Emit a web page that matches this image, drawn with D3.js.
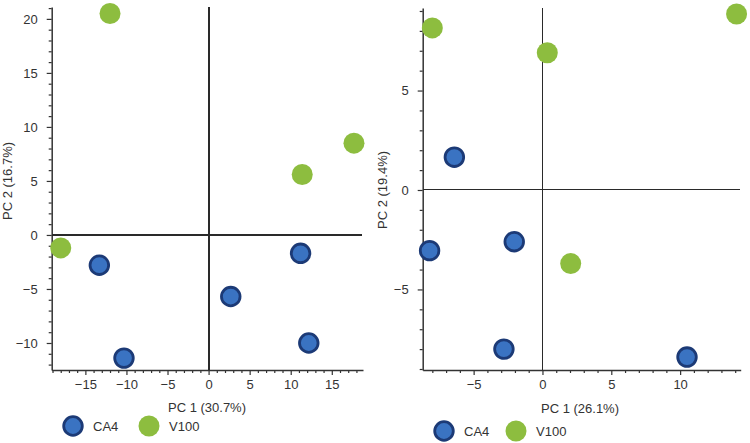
<!DOCTYPE html>
<html>
<head>
<meta charset="utf-8">
<script src="https://cdn.jsdelivr.net/npm/d3@7"></script>
<style>
  body { margin: 0; background: #fff; }
  svg text { font-family: "Liberation Sans", Arial, sans-serif; fill: #333; }
</style>
</head>
<body>
<div id="chart"></div>
<script>
// groups
var groups = ["CA4", "V100"];
var colors = {CA4: "#3a73c2", V100: "#8dbd3f"};
var strokes = {CA4: "#1c3a76", V100: "#8dbd3f"};

// left panel (PC1 30.7%, PC2 16.7%)
var leftPoints = [
  {g: "V100", x: -12.0, y: 20.5},
  {g: "V100", x: 17.7, y: 8.5},
  {g: "V100", x: 11.4, y: 5.6},
  {g: "V100", x: -18.0, y: -1.2},
  {g: "CA4", x: -13.3, y: -2.8},
  {g: "CA4", x: -10.3, y: -11.4},
  {g: "CA4", x: 2.7, y: -5.7},
  {g: "CA4", x: 11.2, y: -1.7},
  {g: "CA4", x: 12.2, y: -10.0}
];
var leftXTicks = [-15, -10, -5, 0, 5, 10, 15];
var leftYTicks = [-10, -5, 0, 5, 10, 15, 20];

// right panel (PC1 26.1%, PC2 19.4%)
var rightPoints = [
  {g: "V100", x: -8.0, y: 8.15},
  {g: "V100", x: 0.35, y: 6.9},
  {g: "V100", x: 14.1, y: 8.85},
  {g: "V100", x: 2.05, y: -3.7},
  {g: "CA4", x: -6.4, y: 1.65},
  {g: "CA4", x: -8.2, y: -3.05},
  {g: "CA4", x: -2.05, y: -2.6},
  {g: "CA4", x: -2.8, y: -8.0},
  {g: "CA4", x: 10.5, y: -8.4}
];
var rightXTicks = [-5, 0, 5, 10];
var rightYTicks = [-5, 0, 5];

var svg = d3.select("#chart").append("svg")
            .attr("width", 750)
            .attr("height", 443);

function drawPanel(cfg) {
    var x = d3.scaleLinear().domain(cfg.xDomain).range(cfg.xRange);
    var y = d3.scaleLinear().domain(cfg.yDomain).range(cfg.yRange);
    var g = svg.append("g");

    var xMinor = d3.range(Math.ceil(cfg.xDomain[0]), Math.floor(cfg.xDomain[1]) + 1)
                   .filter(function(v) { return v % 5 !== 0; });
    var yMinor = d3.range(Math.ceil(cfg.yDomain[0]), Math.floor(cfg.yDomain[1]) + 1)
                   .filter(function(v) { return v % 5 !== 0; });

    // minor ticks
    g.append("g")
     .attr("transform", "translate(0," + cfg.yRange[0] + ")")
     .call(d3.axisBottom(x).tickValues(xMinor).tickSize(3).tickFormat(""))
     .call(function(s) { s.select(".domain").remove(); });
    g.append("g")
     .attr("transform", "translate(" + cfg.xRange[0] + ",0)")
     .call(d3.axisLeft(y).tickValues(yMinor).tickSize(3).tickFormat(""))
     .call(function(s) { s.select(".domain").remove(); });

    // major axes
    g.append("g")
     .attr("transform", "translate(0," + cfg.yRange[0] + ")")
     .call(d3.axisBottom(x).tickValues(cfg.xTicks).tickSize(5).tickPadding(5).tickSizeOuter(0));
    g.append("g")
     .attr("transform", "translate(" + cfg.xRange[0] + ",0)")
     .call(d3.axisLeft(y).tickValues(cfg.yTicks).tickSize(5).tickPadding(9).tickSizeOuter(0));
    g.selectAll(".tick line").attr("stroke", "#333").attr("stroke-width", 1.2);
    g.selectAll(".domain").attr("stroke", "#333").attr("stroke-width", 1.5);
    g.selectAll(".tick text").attr("font-size", 13).style("fill", "#333");

    // zero lines
    g.append("line")
     .attr("x1", x(0)).attr("x2", x(0))
     .attr("y1", cfg.yRange[1]).attr("y2", cfg.yRange[0])
     .attr("stroke", "#2a2a2a").attr("stroke-width", cfg.zeroWidth)
     .attr("shape-rendering", "crispEdges");
    g.append("line")
     .attr("x1", cfg.xRange[0]).attr("x2", cfg.xRange[1] - 1)
     .attr("y1", y(0)).attr("y2", y(0))
     .attr("stroke", "#2a2a2a").attr("stroke-width", cfg.zeroWidth)
     .attr("shape-rendering", "crispEdges");

    // points
    g.selectAll("circle.pt")
     .data(cfg.points)
     .enter().append("circle")
     .attr("class", "pt")
     .attr("cx", function(d) { return x(d.x); })
     .attr("cy", function(d) { return y(d.y); })
     .attr("r", function(d) { return d.g === "CA4" ? 9.3 : 10.5; })
     .attr("fill", function(d) { return colors[d.g]; })
     .attr("stroke", function(d) { return strokes[d.g]; })
     .attr("stroke-width", function(d) { return d.g === "CA4" ? 2.8 : 0; });

    // titles
    g.append("text")
     .attr("x", cfg.xTitlePos[0]).attr("y", cfg.xTitlePos[1])
     .attr("text-anchor", "middle").attr("font-size", 13)
     .text(cfg.xTitle);
    g.append("text")
     .attr("transform", "translate(" + cfg.yTitlePos[0] + "," + cfg.yTitlePos[1] + ") rotate(-90)")
     .attr("text-anchor", "middle").attr("font-size", 13)
     .text(cfg.yTitle);

    // legend
    var leg = g.selectAll("g.leg")
               .data(groups)
               .enter().append("g")
               .attr("class", "leg")
               .attr("transform", function(d, i) {
                   return "translate(" + cfg.legend[i][0] + "," + cfg.legend[i][1] + ")";
               });
    leg.append("circle")
       .attr("r", function(d) { return d === "CA4" ? 9.3 : 10.5; })
       .attr("fill", function(d) { return colors[d]; })
       .attr("stroke", function(d) { return strokes[d]; })
       .attr("stroke-width", function(d) { return d === "CA4" ? 2.8 : 0; });
    leg.append("text")
       .attr("x", 20).attr("y", 4.5)
       .attr("font-size", 13)
       .text(function(d) { return d; });
}

drawPanel({
    points: leftPoints,
    xDomain: [-19.1, 18.8], xRange: [51.7, 363],
    yDomain: [-12.5, 21.1], yRange: [370, 7],
    xTicks: leftXTicks, yTicks: leftYTicks,
    zeroWidth: 2,
    xTitlePos: [207, 412], xTitle: "PC 1 (30.7%)",
    yTitlePos: [12, 181], yTitle: "PC 2 (16.7%)",
    legend: [[73, 426], [149, 426]]
});

drawPanel({
    points: rightPoints,
    xDomain: [-8.7, 14.4], xRange: [422.7, 740.7],
    yDomain: [-9.05, 9.15], yRange: [370, 8],
    xTicks: rightXTicks, yTicks: rightYTicks,
    zeroWidth: 1,
    xTitlePos: [580, 413], xTitle: "PC 1 (26.1%)",
    yTitlePos: [387, 190], yTitle: "PC 2 (19.4%)",
    legend: [[444, 431], [516, 431]]
});
</script>
</body>
</html>
